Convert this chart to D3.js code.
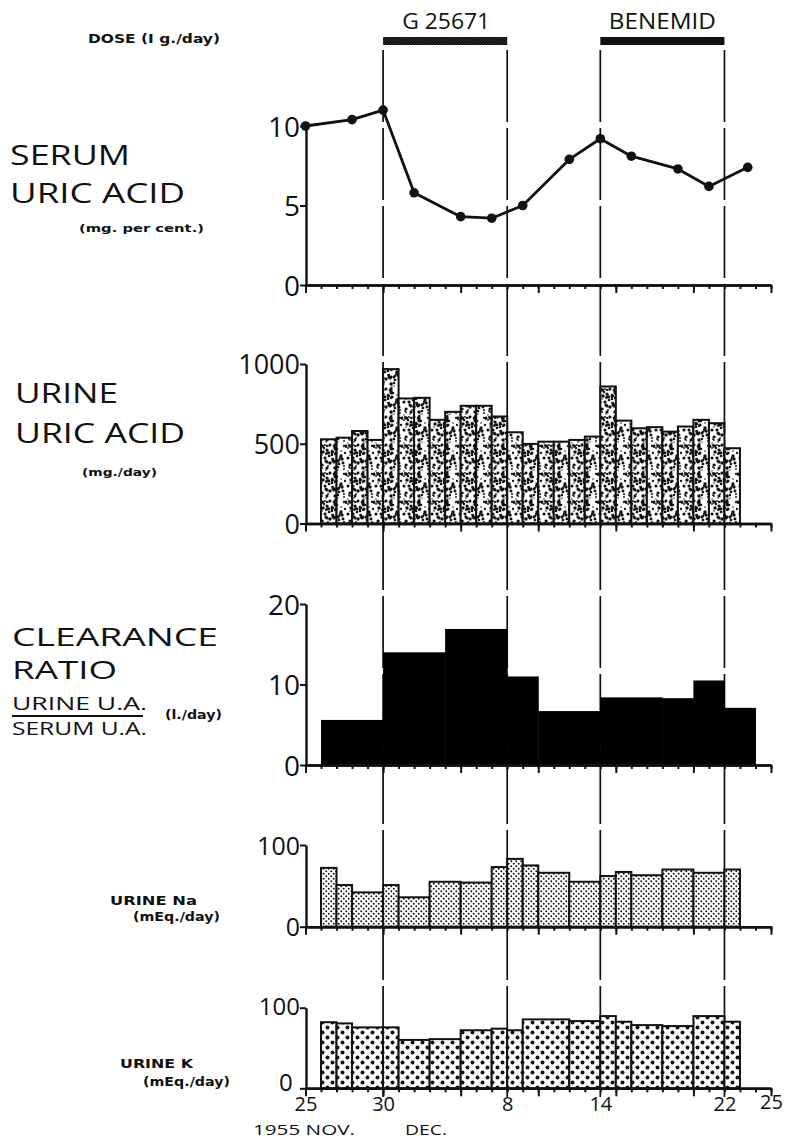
<!DOCTYPE html>
<html><head><meta charset="utf-8">
<script src="https://cdn.jsdelivr.net/npm/d3@7"></script>
<style>
body{margin:0;background:#fff;}
svg{display:block;}
.big{font-family:"Open Sans","DejaVu Sans",sans-serif;font-weight:400;fill:#111;}
.bold{font-family:"DejaVu Sans",sans-serif;font-weight:bold;fill:#111;}
</style></head><body>
<svg id="c" width="787" height="1139"></svg>
<script>
// ---- data (x = days after 25 Nov 1955) ----
const serumDays = [0, 3, 5, 7, 10, 12, 14, 17, 19, 21, 24, 26, 28.5];
const serumUA   = [10.0, 10.4, 11.0, 5.8, 4.3, 4.2, 5.0, 7.9, 9.2, 8.1, 7.3, 6.2, 7.4];

const urineUADays = [1,2,3,4,5,6,7,8,9,10,11,12,13,14,15,16,17,18,19,20,21,22,23,24,25,26,27];
const urineUA = [528,538,580,524,968,784,788,650,700,738,738,671,572,499,513,513,524,545,859,645,597,604,576,608,650,629,472];

const clearStart = [1, 5, 9, 13, 15, 19, 23, 25, 27];
const clearEnd   = [5, 9, 13, 15, 19, 23, 25, 27, 29];
const clearance  = [5.6, 14.0, 16.9, 11.0, 6.7, 8.4, 8.3, 10.5, 7.1];

const naStart = [1,2,3,5,6,8,10,12,13,14,15,17,19,20,21,23,25,27];
const naEnd   = [2,3,5,6,8,10,12,13,14,15,17,19,20,21,23,25,27,28];
const urineNa = [72,51,42,51,36,55,54,73,83,75,66,55,62,67,63,70,66,70];

const kStart = [1,2,3,5,6,8,10,12,13,14,17,19,20,21,23,25,27];
const kEnd   = [2,3,5,6,8,10,12,13,14,17,19,20,21,23,25,27,28];
const urineK = [82,80.5,75.6,75.6,60,61,72,74,72,85.5,83.4,89.6,82.6,78.4,77.2,89.6,82.6];

const doseNames = ["G 25671", "BENEMID"];
const doseStart = [5, 19];
const doseEnd   = [13, 27];

const dateTickDays   = [0, 5, 13, 19, 27, 30];
const dateTickLabels = ["25", "30", "8", "14", "22", "25"];

const serumTicks = [0, 5, 10];
const urineUATicks = [0, 500, 1000];
const clearTicks = [0, 10, 20];
const naTicks = [0, 100];
const kTicks = [0, 100];

// ---- drawing ----
const svg = d3.select("#c");
const defs = svg.append("defs");

const x = d3.scaleLinear().domain([0, 30]).range([305.5, 771]);

// patterns (textures only)
function hash(i, j) {
  let h = (i * 374761393 + j * 668265263) | 0;
  h = Math.imul(h ^ (h >>> 13), 1274126177);
  return ((h ^ (h >>> 16)) >>> 0);
}
{
  const T = 28;
  const p = defs.append("pattern").attr("id", "speck").attr("patternUnits", "userSpaceOnUse")
    .attr("width", T).attr("height", T);
  p.append("rect").attr("width", T).attr("height", T).attr("fill", "#fff");
  for (let k = 0; k < 70; k++) {
    const h = hash(k, 7);
    const cx = h % T, cy = (h >>> 8) % T, r = 0.7 + ((h >>> 16) % 10) / 9;
    for (const ox of [0, -T, T]) for (const oy of [0, -T, T])
      p.append("circle").attr("cx", cx + ox).attr("cy", cy + oy).attr("r", r).attr("fill", "#111");
  }
}
{
  const p = defs.append("pattern").attr("id", "fine").attr("patternUnits", "userSpaceOnUse")
    .attr("width", 5).attr("height", 5);
  p.append("rect").attr("width", 5).attr("height", 5).attr("fill", "#fff");
  p.append("circle").attr("cx", 1.25).attr("cy", 1.25).attr("r", 0.95).attr("fill", "#111");
  p.append("circle").attr("cx", 3.75).attr("cy", 3.75).attr("r", 0.95).attr("fill", "#111");
}
{
  const p = defs.append("pattern").attr("id", "coarse").attr("patternUnits", "userSpaceOnUse")
    .attr("width", 10).attr("height", 10);
  p.append("rect").attr("width", 10).attr("height", 10).attr("fill", "#fff");
  p.append("circle").attr("cx", 2.5).attr("cy", 2.5).attr("r", 2).attr("fill", "#111");
  p.append("circle").attr("cx", 7.5).attr("cy", 7.5).attr("r", 2).attr("fill", "#111");
}
{
  const p = defs.append("pattern").attr("id", "hatch").attr("patternUnits", "userSpaceOnUse")
    .attr("width", 3).attr("height", 3);
  p.append("rect").attr("width", 3).attr("height", 3).attr("fill", "#555");
  p.append("path").attr("d", "M0,3L3,0M-1,1L1,-1M2,4L4,2").attr("stroke", "#000").attr("stroke-width", 1.5);
}

// dashed vertical lines at dose start/end
const dashDays = doseStart.flatMap((s, i) => [s, doseEnd[i]]);
svg.append("g").selectAll("line").data(dashDays).join("line")
  .attr("x1", d => x(d)).attr("x2", d => x(d))
  .attr("y1", 50).attr("y2", 1097)
  .attr("stroke", "#111").attr("stroke-width", 1.7)
  .attr("stroke-dasharray", "72,6");

// dose bars & labels
svg.append("g").selectAll("rect").data(doseNames).join("rect")
  .attr("x", (d, i) => x(doseStart[i])).attr("width", (d, i) => x(doseEnd[i]) - x(doseStart[i]))
  .attr("y", 37).attr("height", 8)
  .attr("fill", (d, i) => i === 0 ? "url(#hatch)" : "#111");
svg.append("g").selectAll("text").data(doseNames).join("text")
  .attr("class", "big")
  .attr("x", (d, i) => (x(doseStart[i]) + x(doseEnd[i])) / 2 + (i === 0 ? 1 : 0))
  .attr("y", 29).attr("text-anchor", "middle").attr("font-size", 21)
  .attr("textLength", (d, i) => i === 0 ? 88 : 107).attr("lengthAdjust", "spacingAndGlyphs")
  .text(d => d);

function axes(y, ticks, fontSize, dy) {
  const y0 = y.range()[0];
  const gx = svg.append("g").attr("transform", `translate(0,${y0})`);
  gx.append("g").call(d3.axisBottom(x).tickValues(d3.range(0, 31)).tickSize(4).tickFormat("").tickSizeOuter(0));
  gx.append("g").call(d3.axisBottom(x).tickValues(d3.range(0, 31, 5)).tickSize(8).tickFormat("").tickSizeOuter(0));
  gx.selectAll("path").attr("stroke", "#111").attr("stroke-width", 2.4);
  gx.selectAll("line").attr("stroke", "#111").attr("stroke-width", 2);
  const gy = svg.append("g").attr("transform", `translate(306,0)`)
    .call(d3.axisLeft(y).tickValues(ticks).tickSize(6).tickPadding(0).tickSizeOuter(0).tickFormat(d3.format("d")));
  gy.select("path").attr("stroke", "#111").attr("stroke-width", 2.4);
  gy.selectAll("line").attr("stroke", "#111").attr("stroke-width", 2);
  gy.selectAll("text").attr("class", "big").attr("font-size", fontSize).attr("dy", dy || "0.36em")
    .attr("font-family", null);
  return gy;
}

// Panel 1: serum uric acid
const y1 = d3.scaleLinear().domain([0, 10]).range([285, 126]);
axes(y1, serumTicks, 28);
const serumPts = serumDays.map((d, i) => [d, serumUA[i]]);
svg.append("path").datum(serumPts)
  .attr("d", d3.line().x(d => x(d[0])).y(d => y1(d[1])))
  .attr("fill", "none").attr("stroke", "#111").attr("stroke-width", 2.8).attr("stroke-linejoin", "round");
svg.append("g").selectAll("circle").data(serumPts).join("circle")
  .attr("cx", d => x(d[0])).attr("cy", d => y1(d[1])).attr("r", 4.8).attr("fill", "#111");

// Panel 2: urine uric acid
const y2 = d3.scaleLinear().domain([0, 1000]).range([523.5, 364]);
svg.append("g").selectAll("rect").data(urineUA).join("rect")
  .attr("x", (d, i) => x(urineUADays[i])).attr("width", (d, i) => x(urineUADays[i] + 1) - x(urineUADays[i]))
  .attr("y", d => y2(d)).attr("height", d => y2(0) - y2(d))
  .attr("fill", "url(#speck)").attr("stroke", "#111").attr("stroke-width", 2);
axes(y2, urineUATicks, 27);

// Panel 3: clearance ratio
const y3 = d3.scaleLinear().domain([0, 20]).range([765, 604]);
svg.append("g").selectAll("rect").data(clearance).join("rect")
  .attr("x", (d, i) => x(clearStart[i])).attr("width", (d, i) => x(clearEnd[i]) - x(clearStart[i]) + 0.5)
  .attr("y", d => y3(d)).attr("height", d => y3(0) - y3(d))
  .attr("fill", "#000");
axes(y3, clearTicks, 28);

// Panel 4: urine Na
const y4 = d3.scaleLinear().domain([0, 100]).range([926.7, 845]);
svg.append("g").selectAll("rect").data(urineNa).join("rect")
  .attr("x", (d, i) => x(naStart[i])).attr("width", (d, i) => x(naEnd[i]) - x(naStart[i]))
  .attr("y", d => y4(d)).attr("height", d => y4(0) - y4(d))
  .attr("fill", "url(#fine)").attr("stroke", "#111").attr("stroke-width", 2);
axes(y4, naTicks, 25);

// Panel 5: urine K
const y5 = d3.scaleLinear().domain([0, 100]).range([1088.3, 1007.7]);
svg.append("g").selectAll("rect").data(urineK).join("rect")
  .attr("x", (d, i) => x(kStart[i])).attr("width", (d, i) => x(kEnd[i]) - x(kStart[i]))
  .attr("y", d => y5(d)).attr("height", d => y5(0) - y5(d))
  .attr("fill", "url(#coarse)").attr("stroke", "#111").attr("stroke-width", 2);
const gk = axes(y5, kTicks, 24, "0.28em");
gk.selectAll(".tick text").filter(d => d === 0).attr("dx", "-0.3em").attr("dy", "0.1em");

// date labels
const gd = svg.append("g").attr("transform", `translate(0,${y5.range()[0]})`)
  .call(d3.axisBottom(x).tickValues(dateTickDays).tickSize(0).tickPadding(9)
    .tickFormat((d, i) => dateTickLabels[i]));
gd.select("path").remove();
gd.selectAll("text").attr("class", "big").attr("font-size", 20).attr("font-family", null)
  .attr("dy", (d, i) => i === dateTickDays.length - 1 ? "0.6em" : "0.71em");

// left titles
function label(txt, x0, yb, size, len, cls) {
  svg.append("text").attr("class", cls || "big").attr("x", x0).attr("y", yb)
    .attr("font-size", size).attr("textLength", len).attr("lengthAdjust", "spacingAndGlyphs").text(txt);
}
label("DOSE (I g./day)", 88, 43, 12, 132, "bold");
label("SERUM", 10, 165, 27, 120);
label("URIC ACID", 10, 203, 27, 175);
label("(mg. per cent.)", 79, 232, 11, 125, "bold");
label("URINE", 15, 403, 27, 103);
label("URIC ACID", 15, 443, 27, 170);
label("(mg./day)", 82, 476, 11, 75, "bold");
label("CLEARANCE", 12, 646, 25, 206);
label("RATIO", 12, 679, 25, 105);
label("URINE  U.A.", 12, 710, 19, 135);
svg.append("line").attr("x1", 12).attr("x2", 143).attr("y1", 716).attr("y2", 716).attr("stroke", "#111").attr("stroke-width", 2);
label("SERUM U.A.", 12, 735, 19, 135);
label("(l./day)", 165, 719, 12, 57, "bold");
label("URINE Na", 110, 905, 13, 87, "bold");
label("(mEq./day)", 133, 921, 12, 87, "bold");
label("URINE K", 120, 1068, 13, 73, "bold");
label("(mEq./day)", 143, 1086, 12, 87, "bold");
label("1955 NOV.", 253, 1135, 15, 102);
label("DEC.", 405, 1135, 15, 42);
</script>
</body></html>
